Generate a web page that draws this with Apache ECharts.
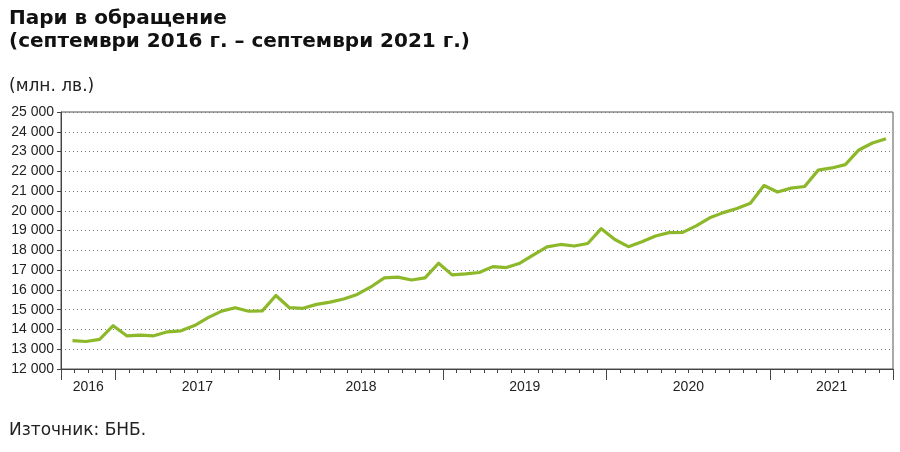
<!DOCTYPE html>
<html lang="bg">
<head>
<meta charset="utf-8">
<script src="https://cdn.jsdelivr.net/npm/echarts@6/dist/echarts.min.js"></script>
<style>
html,body{margin:0;padding:0;background:#fff;}
#chart{width:900px;height:452px;}
</style>
</head>
<body>
<div id="chart"></div>
<script>
// Months (Sep 2016 – Sep 2021)
const months = [
  '2016-09','2016-10','2016-11','2016-12',
  '2017-01','2017-02','2017-03','2017-04','2017-05','2017-06','2017-07','2017-08','2017-09','2017-10','2017-11','2017-12',
  '2018-01','2018-02','2018-03','2018-04','2018-05','2018-06','2018-07','2018-08','2018-09','2018-10','2018-11','2018-12',
  '2019-01','2019-02','2019-03','2019-04','2019-05','2019-06','2019-07','2019-08','2019-09','2019-10','2019-11','2019-12',
  '2020-01','2020-02','2020-03','2020-04','2020-05','2020-06','2020-07','2020-08','2020-09','2020-10','2020-11','2020-12',
  '2021-01','2021-02','2021-03','2021-04','2021-05','2021-06','2021-07','2021-08','2021-09'
];
// Money in circulation, million BGN
const moneyInCirculation = [
  13440, 13390, 13500, 14190,
  13680, 13710, 13680, 13880, 13930, 14200, 14600, 14930, 15100, 14920, 14940, 15720,
  15100, 15070, 15270, 15380, 15540, 15770, 16150, 16610, 16650, 16500, 16610, 17350,
  16760, 16810, 16880, 17180, 17130, 17350, 17770, 18180, 18300, 18220, 18350, 19100,
  18550, 18190, 18440, 18730, 18900, 18910, 19240, 19650, 19910, 20120, 20380, 21280,
  20950, 21150, 21230, 22060, 22170, 22340, 23080, 23430, 23650
];
const years = ['2016','2017','2018','2019','2020','2021'];
const yTicks = { min: 12000, max: 25000, step: 1000 };

// Year label slots on a half-month axis (centre of each year's span)
const halfSlots = new Array(months.length * 2 + 1).fill('');
years.forEach(function (y) {
  let fi = -1, li = -1;
  months.forEach(function (m, i) { if (m.indexOf(y) === 0) { if (fi < 0) fi = i; li = i; } });
  halfSlots[fi + li + 1] = y;
});

const FONT = "'Liberation Sans', Arial, Helvetica, sans-serif";
const CYR = "'DejaVu Sans', 'Liberation Sans', Arial, sans-serif";
const fmt = function (v) { return String(v).replace(/\B(?=(\d{3})+(?!\d))/g, ' '); };

const chart = echarts.init(document.getElementById('chart'), null, { renderer: 'canvas' });
chart.setOption({
  backgroundColor: '#ffffff',
  animation: false,
  textStyle: { fontFamily: FONT },
  title: [
    {
      text: 'Пари в обращение\n(септември 2016 г. – септември 2021 г.)',
      left: 9, top: 7, padding: 0,
      textStyle: { fontFamily: CYR, fontSize: 20, fontWeight: 'bold', color: '#111', lineHeight: 23 }
    },
    {
      text: '(млн. лв.)',
      left: 9, top: 78, padding: 0,
      textStyle: { fontFamily: CYR, fontSize: 17, fontWeight: 'normal', color: '#222' }
    },
    {
      text: 'Източник: БНБ.',
      left: 9, top: 422, padding: 0,
      textStyle: { fontFamily: CYR, fontSize: 17, fontWeight: 'normal', color: '#222' }
    }
  ],
  grid: [
    { left: 61, right: 7, top: 112, bottom: 83, show: true, borderColor: '#555', borderWidth: 1, backgroundColor: 'transparent' },
    { left: 72.5, right: 14, top: 112, bottom: 83 }
  ],
  xAxis: [
    {
      gridIndex: 0, type: 'category', position: 'bottom', data: months, boundaryGap: true,
      axisLine: { show: true, lineStyle: { color: '#444', width: 1 } },
      axisTick: { show: true, interval: 0, length: 4, lineStyle: { color: '#444' } },
      axisLabel: { show: false },
      splitLine: { show: false }
    },
    {
      gridIndex: 0, type: 'category', position: 'bottom', data: months, boundaryGap: true,
      axisLine: { show: false },
      axisTick: {
        show: true, length: 11, lineStyle: { color: '#444' },
        interval: function (i) { return i === 0 || months[i].slice(5) === '01'; }
      },
      axisLabel: { show: false },
      splitLine: { show: false }
    },
    {
      gridIndex: 0, type: 'category', position: 'bottom', data: halfSlots, boundaryGap: false,
      axisLine: { show: false }, axisTick: { show: false },
      axisLabel: { show: true, interval: 0, margin: 11, fontSize: 14, color: '#222', fontFamily: FONT },
      splitLine: { show: false }
    },
    {
      gridIndex: 1, type: 'category', position: 'bottom', data: months, boundaryGap: false, show: false
    }
  ],
  yAxis: [
    {
      gridIndex: 0, type: 'value', position: 'left', min: yTicks.min, max: yTicks.max, interval: yTicks.step,
      axisLine: { show: true, lineStyle: { color: '#444', width: 1 } },
      axisTick: { show: true, length: 4, lineStyle: { color: '#444' } },
      axisLabel: { fontSize: 14, color: '#222', margin: 7, fontFamily: FONT, formatter: fmt },
      splitLine: { show: true, lineStyle: { color: '#777', width: 1, type: [1, 3] } }
    },
    {
      gridIndex: 1, type: 'value', position: 'left', min: yTicks.min, max: yTicks.max, show: false,
      splitLine: { show: false }
    }
  ],
  series: [
    {
      name: 'Пари в обращение', type: 'line',
      xAxisIndex: 3, yAxisIndex: 1,
      data: moneyInCirculation,
      symbol: 'none', smooth: false,
      lineStyle: { color: '#8cb82a', width: 3.2, join: 'round' },
      itemStyle: { color: '#8cb82a' }
    }
  ]
});
</script>
</body>
</html>
